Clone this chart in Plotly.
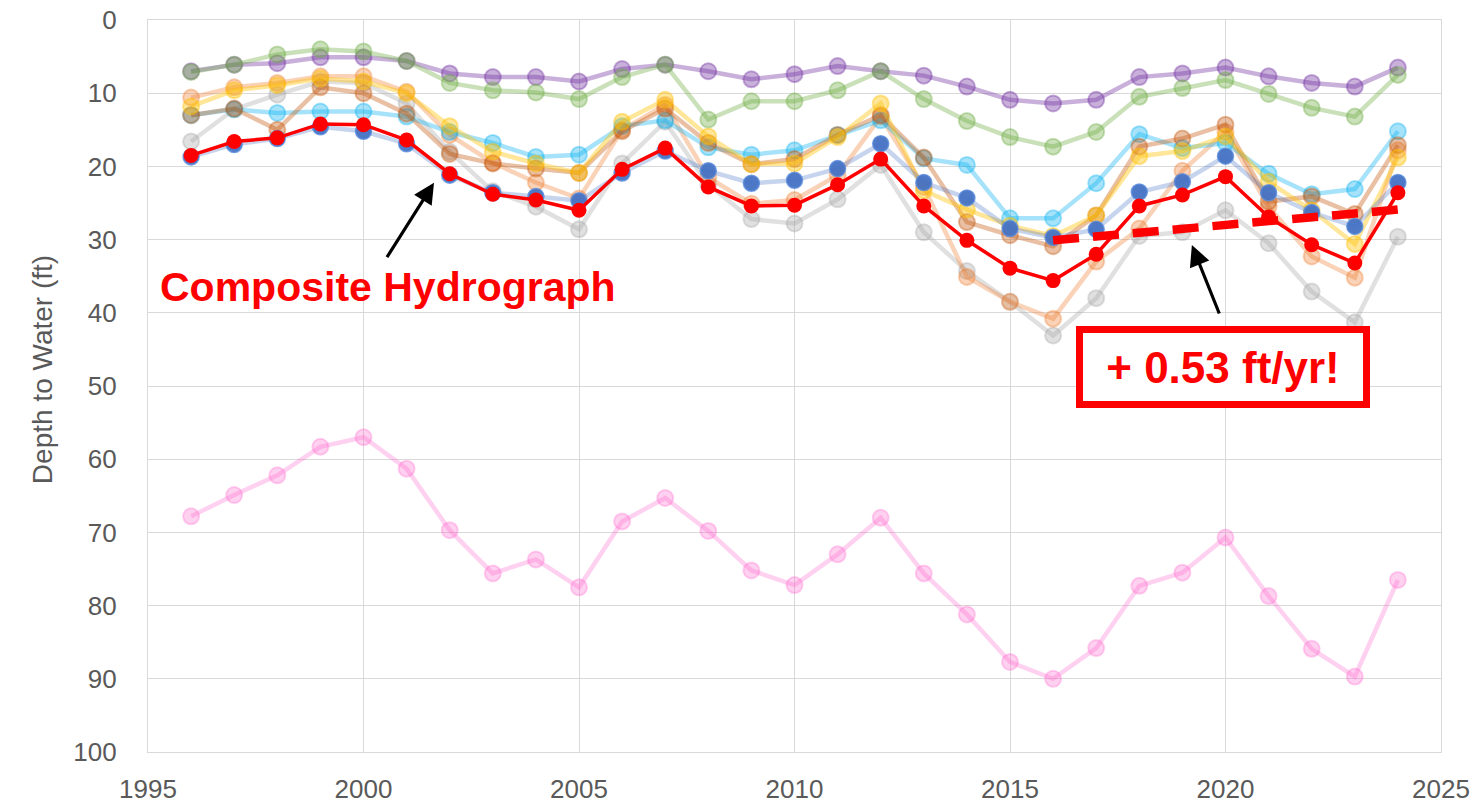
import plotly.graph_objects as go

years = list(range(1996, 2025))

composite = [18.5, 16.6, 16.1, 14.2, 14.3, 16.4, 21.0, 23.8, 24.6, 26.0, 20.4, 17.5, 22.8, 25.4, 25.3,
             22.5, 19.0, 25.4, 30.1, 33.9, 35.6, 32.0, 25.4, 23.9, 21.4, 26.9, 30.7, 33.2, 23.6]
well_blue = [18.7, 17.0, 16.2, 14.6, 15.2, 16.9, 21.2, 23.6, 24.1, 24.7, 20.9, 17.9, 20.6, 22.3, 21.9,
             20.3, 16.9, 22.2, 24.3, 28.5, 29.7, 28.6, 23.5, 22.1, 18.6, 23.6, 26.3, 28.2, 22.2]
well_purple = [7.0, 6.1, 5.9, 5.1, 5.1, 5.6, 7.3, 7.8, 7.8, 8.4, 6.7, 6.1, 7.0, 8.1, 7.4,
               6.3, 7.0, 7.6, 9.1, 10.9, 11.4, 10.9, 7.8, 7.3, 6.5, 7.7, 8.6, 9.1, 6.5]
well_green = [7.1, 6.1, 4.7, 4.0, 4.3, 5.6, 8.6, 9.6, 9.9, 10.8, 7.8, 6.1, 13.6, 11.1, 11.1,
              9.6, 7.0, 10.8, 13.8, 16.0, 17.3, 15.3, 10.5, 9.3, 8.2, 10.1, 12.0, 13.2, 7.5]
well_lightblue = [13.0, 12.2, 12.7, 12.5, 12.5, 13.2, 15.3, 16.8, 18.7, 18.4, 14.5, 13.7, 17.4, 18.4, 17.8,
                  15.7, 13.7, 18.9, 19.8, 27.1, 27.1, 22.3, 15.6, 17.5, 16.8, 21.0, 23.8, 23.1, 15.2]
well_brown = [13.0, 12.1, 15.0, 9.2, 10.0, 12.8, 18.3, 19.6, 20.3, 20.9, 15.2, 12.1, 16.8, 19.7, 19.0,
              15.7, 13.0, 18.8, 27.6, 29.4, 30.9, 26.7, 17.3, 16.2, 14.3, 24.8, 24.1, 26.5, 17.1]
well_gold = [11.8, 9.6, 8.9, 8.0, 8.4, 10.0, 14.5, 18.0, 19.6, 20.9, 13.9, 10.9, 15.9, 19.7, 19.6,
             16.0, 11.4, 23.3, 25.9, 28.1, 29.5, 26.7, 18.6, 17.9, 15.9, 22.1, 26.0, 30.6, 18.8]
well_orange = [10.6, 9.2, 8.6, 7.7, 7.7, 9.8, 15.7, 19.5, 22.2, 24.4, 15.0, 11.6, 21.5, 25.1, 24.6,
               21.2, 13.2, 22.8, 35.1, 38.5, 40.8, 33.0, 28.5, 20.6, 15.3, 25.5, 32.3, 35.2, 17.8]
well_gray = [16.6, 12.2, 10.2, 8.4, 8.6, 11.4, 18.0, 23.4, 25.5, 28.6, 19.6, 13.9, 22.5, 27.2, 27.8,
             24.5, 19.8, 29.0, 34.3, 38.5, 43.1, 38.0, 29.5, 29.0, 26.0, 30.5, 37.1, 41.3, 29.6]
well_pink = [67.8, 64.9, 62.2, 58.3, 57.0, 61.3, 69.7, 75.6, 73.7, 77.5, 68.5, 65.3, 69.8, 75.2, 77.2,
             73.0, 68.0, 75.6, 81.2, 87.7, 90.0, 85.8, 77.3, 75.5, 70.7, 78.7, 85.9, 89.7, 76.5]

trend_years = [2016, 2024]
trend_depth = [30.1, 25.9]

x_ticks = [1995, 2000, 2005, 2010, 2015, 2020, 2025]
y_ticks = [0, 10, 20, 30, 40, 50, 60, 70, 80, 90, 100]

fig = go.Figure()

def faded(values, rgb, alpha):
    c = "rgba(%d,%d,%d,%.2f)" % (rgb[0], rgb[1], rgb[2], alpha)
    fig.add_trace(go.Scatter(
        x=years, y=values, mode="lines+markers",
        line=dict(color=c, width=4.5),
        marker=dict(size=16, color=c, line=dict(color=c, width=2)),
        hoverinfo="skip"))

faded(well_pink, (255, 102, 204), 0.30)
faded(well_gray, (165, 165, 165), 0.35)
faded(well_orange, (237, 125, 49), 0.35)
faded(well_lightblue, (0, 176, 240), 0.35)
faded(well_brown, (197, 90, 17), 0.38)
faded(well_gold, (255, 192, 0), 0.40)
faded(well_purple, (112, 48, 160), 0.38)
faded(well_green, (112, 173, 71), 0.38)

# blue well: pale line, solid markers
fig.add_trace(go.Scatter(x=years, y=well_blue, mode="lines",
                         line=dict(color="rgba(68,114,196,0.30)", width=4.5), hoverinfo="skip"))
fig.add_trace(go.Scatter(x=years, y=well_blue, mode="markers",
                         marker=dict(size=16, color="rgba(68,114,196,0.95)",
                                     line=dict(color="rgba(91,140,220,0.8)", width=1.5)),
                         hoverinfo="skip"))

# composite hydrograph
fig.add_trace(go.Scatter(x=years, y=composite, mode="lines+markers",
                         line=dict(color="#FF0000", width=3.5),
                         marker=dict(size=15, color="#FF0000"), hoverinfo="skip"))

# trend line
fig.add_trace(go.Scatter(x=trend_years, y=trend_depth, mode="lines",
                         line=dict(color="#FF0000", width=8.5, dash="26px,14px"), hoverinfo="skip"))

tick_font = dict(family="Liberation Sans, Arial, sans-serif", size=26, color="#595959")

fig.update_layout(
    width=1479, height=811,
    margin=dict(l=148, r=38, t=20, b=59),
    paper_bgcolor="white", plot_bgcolor="white",
    showlegend=False,
    xaxis=dict(range=[1995, 2025], tickvals=x_ticks, ticktext=[str(v) for v in x_ticks],
               showgrid=True, gridcolor="#D9D9D9", gridwidth=1.3,
               showline=True, linecolor="#D9D9D9", linewidth=1.3, mirror=True,
               zeroline=False, ticks="", tickfont=tick_font, ticklabelstandoff=14,
               ticklabeloverflow="allow", automargin=False),
    yaxis=dict(range=[100, 0], tickvals=y_ticks, ticktext=[str(v) for v in y_ticks],
               showgrid=True, gridcolor="#D9D9D9", gridwidth=1.3,
               showline=True, linecolor="#D9D9D9", linewidth=1.3, mirror=True,
               zeroline=False, ticks="", tickfont=tick_font, ticklabelstandoff=25,
               ticklabeloverflow="allow", automargin=False),
    annotations=[
        dict(x=-0.082, y=0.523, xref="paper", yref="paper", text="Depth to Water (ft)",
             textangle=-90, showarrow=False, xanchor="center", yanchor="middle",
             font=dict(family="Liberation Sans, Arial, sans-serif", size=28, color="#595959")),
        dict(x=2000.575, y=36.5, xref="x", yref="y", text="<b>Composite Hydrograph</b>",
             showarrow=False, font=dict(family="Liberation Sans, Arial, sans-serif", size=41, color="#FF0000")),
        dict(x=2001.636, y=22.23, xref="x", yref="y", text="", showarrow=True,
             ax=-48, ay=76, arrowhead=2, arrowsize=1.3, arrowwidth=3.2, arrowcolor="black", standoff=0),
        dict(x=2019.22, y=30.74, xref="x", yref="y", text="", showarrow=True,
             ax=28, ay=70, arrowhead=2, arrowsize=1.3, arrowwidth=3.2, arrowcolor="black", standoff=0),
        dict(x=2019.94, y=47.4, xref="x", yref="y", text="<b>+ 0.53 ft/yr!</b>",
             showarrow=False, width=280, height=68, borderpad=0, borderwidth=7,
             bordercolor="#FF0000", bgcolor="white",
             font=dict(family="Liberation Sans, Arial, sans-serif", size=44, color="#FF0000")),
    ],
)

# remove the default 8px page margin so the 1479x811 figure fills the window exactly
fig.write_html("out.html", config={"displayModeBar": False},
               post_script="document.body.style.margin='0';")
